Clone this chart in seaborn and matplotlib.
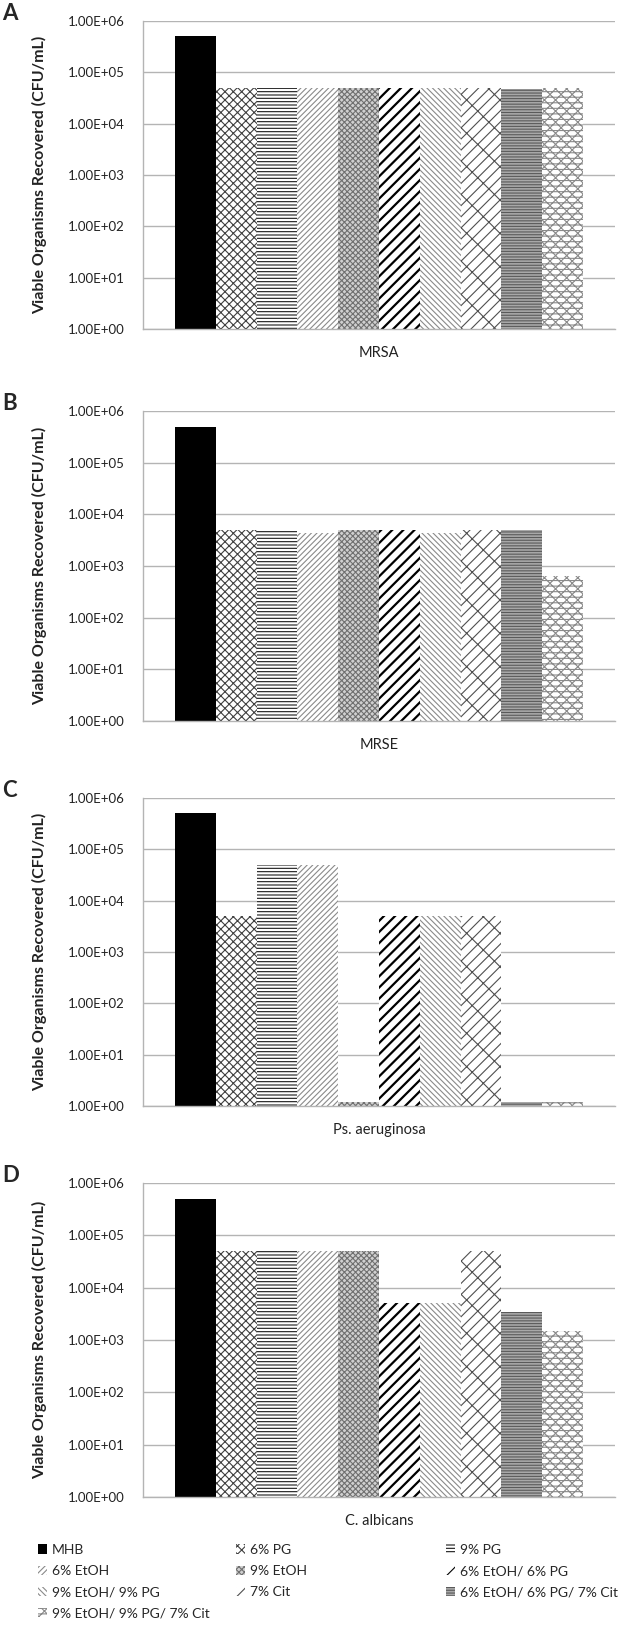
import matplotlib
matplotlib.use("Agg")
import pandas as pd
import matplotlib.pyplot as plt
import seaborn as sns
from matplotlib.patches import Patch
from matplotlib.ticker import FixedLocator, FuncFormatter, NullLocator

# ---- data ----
treatments = ['MHB', '6% PG', '9% PG', '6% EtOH', '9% EtOH', '6% EtOH/ 6% PG',
              '9% EtOH/ 9% PG', '7% Cit', '6% EtOH/ 6% PG/ 7% Cit',
              '9% EtOH/ 9% PG/ 7% Cit']
organisms = ['MRSA', 'MRSE', 'Ps. aeruginosa', 'C. albicans']
panel_letters = ['A', 'B', 'C', 'D']

mrsa = [5.0e5, 5.0e4, 5.0e4, 5.0e4, 5.0e4, 5.0e4, 5.0e4, 5.0e4, 4.8e4, 5.0e4]
mrse = [5.0e5, 5.0e3, 4.7e3, 4.4e3, 5.0e3, 5.0e3, 4.4e3, 5.0e3, 5.0e3, 6.5e2]
ps_aeruginosa = [5.0e5, 5.0e3, 5.0e4, 5.0e4, 1.2, 5.0e3, 5.0e3, 5.0e3, 1.2, 1.2]
c_albicans = [5.0e5, 5.0e4, 5.0e4, 5.0e4, 5.0e4, 5.0e3, 5.0e3, 5.0e4, 3.4e3, 1.5e3]

y_ticks = [1e0, 1e1, 1e2, 1e3, 1e4, 1e5, 1e6]

# facecolor, hatch colour, hatch pattern for each treatment
styles = {
    'MHB': ('black', 'black', ''),
    '6% PG': ('white', '#404040', 'xxxx'),
    '9% PG': ('white', '#1a1a1a', '-----'),
    '6% EtOH': ('white', '#8a8a8a', '//////'),
    '9% EtOH': ('#d0d0d0', '#707070', 'xxxxxx'),
    '6% EtOH/ 6% PG': ('white', 'black', '///'),
    '9% EtOH/ 9% PG': ('white', '#8a8a8a', '\\\\\\\\\\\\'),
    '7% Cit': ('white', '#505050', '//x'),
    '6% EtOH/ 6% PG/ 7% Cit': ('#a8a8a8', '#5a5a5a', '------'),
    '9% EtOH/ 9% PG/ 7% Cit': ('white', '#8a8a8a', '---xxx'),
}

values = [mrsa, mrse, ps_aeruginosa, c_albicans]
frames = []
for org, vals in zip(organisms, values):
    frames.append(pd.DataFrame({'organism': org, 'treatment': treatments, 'cfu': vals}))
df = pd.concat(frames, ignore_index=True)

sns.set_style('white')
plt.rcParams['font.family'] = ['Lato', 'DejaVu Sans']
plt.rcParams['hatch.linewidth'] = 0.8

W, H = 624, 1632
fig = plt.figure(figsize=(W / 100, H / 100), dpi=100)

# axes boxes in pixels: (top, bottom)
boxes = [(21, 329), (411, 721), (798, 1106), (1183, 1497)]
left_px, right_px = 143, 615

grid_col = '#b4b4b4'
for i, org in enumerate(organisms):
    top, bot = boxes[i]
    ax = fig.add_axes([left_px / W, 1 - bot / H, (right_px - left_px) / W, (bot - top) / H])
    sub = df[df['organism'] == org]
    sns.barplot(data=sub, x='organism', y='cfu',
                hue='treatment', hue_order=treatments, palette=['white'] * len(treatments),
                width=0.864, gap=0, legend=False, ax=ax)
    ax.set_yscale('log')
    for patch, t in zip(ax.patches, treatments):
        fc, hc, hatch = styles[t]
        patch.set_facecolor(fc)
        patch.set_edgecolor(hc)
        patch.set_linewidth(0)
        patch.set_hatch(hatch)
        if t == '6% EtOH/ 6% PG' and hasattr(patch, 'set_hatch_linewidth'):
            patch.set_hatch_linewidth(1.6)

    ax.set_ylim(1, 1e6)
    ax.set_xlim(-0.5, 0.5)
    ax.yaxis.set_major_locator(FixedLocator(y_ticks))
    ax.yaxis.set_minor_locator(NullLocator())
    ax.yaxis.set_major_formatter(FuncFormatter(lambda v, p: f"{v:.2E}"))
    ax.grid(axis='y', color=grid_col, linewidth=1)
    ax.grid(axis='x', visible=False)
    ax.set_axisbelow(True)
    for s in ['top', 'right']:
        ax.spines[s].set_visible(False)
    for s in ['left', 'bottom']:
        ax.spines[s].set_color(grid_col)
        ax.spines[s].set_linewidth(1)
    ax.tick_params(axis='y', length=5, color=grid_col, labelsize=9.5, pad=8, labelcolor='#222222')
    ax.tick_params(axis='x', length=0, labelsize=10.5, pad=12, labelcolor='#222222')
    ax.set_xlabel('')
    ax.set_ylabel('Viable Organisms Recovered (CFU/mL)', fontsize=11.5, fontweight='bold',
                  color='#222222')
    ax.yaxis.set_label_coords((47 - left_px) / (right_px - left_px), 0.5)

    fig.text(2 / W, 1 - (top - 8) / H, panel_letters[i], fontsize=16, fontweight='bold',
             va='center', ha='left')

# legend: three columns filled row by row
col_x = [38, 236, 446]
for c in range(3):
    idx = list(range(c, len(treatments), 3))
    handles = [Patch(facecolor=styles[treatments[k]][0], edgecolor=styles[treatments[k]][1],
                     hatch=styles[treatments[k]][2], linewidth=0) for k in idx]
    labels = [treatments[k] for k in idx]
    fig.legend(handles, labels, loc='upper left', bbox_to_anchor=(col_x[c] / W, 1 - 1544 / H),
               frameon=False, fontsize=10, handlelength=0.65, handleheight=0.65,
               handletextpad=0.35, labelspacing=0.65, borderaxespad=0, borderpad=0)

fig.savefig('out.png', dpi=100)
